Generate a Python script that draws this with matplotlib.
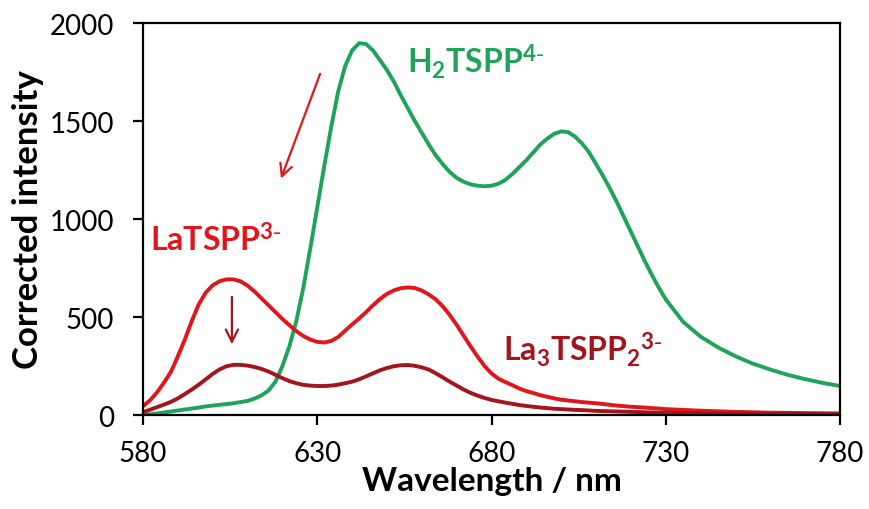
import matplotlib
matplotlib.use("Agg")
import numpy as np
import matplotlib.pyplot as plt

plt.rcParams['font.family'] = ['Lato', 'DejaVu Sans']

# wavelength grid (nm): 2 nm steps to 730, then 5 nm steps
wavelength = np.concatenate([np.arange(580, 731, 2), np.arange(735, 781, 5)])

h2tspp = [0, 4, 8, 13, 18, 23, 28, 33, 38, 44,
          48, 52, 56, 60, 66, 72, 84, 100, 125, 170,
          250, 350, 480, 650, 850, 1060, 1270, 1470, 1650, 1780,
          1860, 1897, 1893, 1860, 1810, 1760, 1700, 1630, 1565, 1500,
          1440, 1380, 1325, 1280, 1240, 1210, 1190, 1177, 1170, 1167,
          1170, 1180, 1200, 1230, 1265, 1300, 1340, 1380, 1410, 1435,
          1447, 1443, 1420, 1385, 1340, 1280, 1220, 1155, 1085, 1010,
          935, 860, 785, 715, 650, 590,
          475, 400, 345, 300, 262, 232, 205, 183, 164, 148]

latspp = [45, 75, 115, 165, 220, 300, 385, 480, 565, 625,
          662, 683, 692, 692, 682, 660, 630, 595, 560, 525,
          490, 458, 428, 403, 385, 373, 370, 378, 398, 430,
          462, 492, 525, 560, 592, 618, 636, 647, 651, 648,
          635, 615, 590, 555, 510, 460, 405, 350, 298, 250,
          212, 185, 168, 152, 135, 122, 112, 101, 93, 85,
          78, 74, 70, 66, 63, 60, 56, 52, 48, 45,
          42, 40, 38, 35, 33, 30,
          26, 22, 19, 16, 14, 12, 11, 10, 9, 8]

la3tspp2 = [15, 27, 40, 53, 67, 85, 107, 130, 155, 182,
            210, 233, 249, 256, 256, 252, 245, 235, 222, 205,
            188, 173, 162, 154, 150, 148, 148, 150, 155, 162,
            170, 182, 197, 213, 228, 240, 249, 254, 255, 251,
            243, 232, 213, 192, 170, 150, 130, 113, 99, 87,
            77, 70, 63, 57, 51, 46, 42, 38, 35, 32,
            30, 28, 26, 25, 23, 21, 20, 19, 18, 17,
            16, 15, 14, 13, 12, 11,
            10, 9, 8, 7, 7, 6, 6, 5, 5, 4]

green = '#1fa35b'
red = '#e0161b'
darkred = '#a3141d'

fig = plt.figure(figsize=(8.69, 5.10), dpi=100)
ax = fig.add_axes([0.1646, 0.1843, 0.802, 0.7686])

ax.plot(wavelength, h2tspp, color=green, lw=2.8)
ax.plot(wavelength, latspp, color=red, lw=2.8)
ax.plot(wavelength, la3tspp2, color=darkred, lw=2.8)

ax.set_xlim(580, 780)
ax.set_ylim(0, 2000)
ax.set_xticks([580, 630, 680, 730, 780])
ax.set_yticks([0, 500, 1000, 1500, 2000])
for s in ax.spines.values():
    s.set_linewidth(1.6)
ax.tick_params(direction='out', length=7, width=1.6, labelsize=20)
ax.tick_params(axis='x', pad=11)
ax.tick_params(axis='y', pad=14)

ax.set_xlabel('Wavelength / nm', fontsize=24, fontweight='bold', labelpad=0)
ax.set_ylabel('Corrected intensity', fontsize=25, fontweight='bold', labelpad=4)

# labels
ax.text(655.8, 1805, r'$\mathregular{H_2TSPP^{4\text{-}}}$', color=green, fontsize=23,
        fontweight='bold', va='center', ha='left')
ax.text(582, 898, r'$\mathregular{LaTSPP^{3\text{-}}}$', color=red, fontsize=23,
        fontweight='bold', va='center', ha='left')
ax.text(683.3, 337, r'$\mathregular{La_3TSPP_2{}^{3\text{-}}}$', color=darkred, fontsize=23,
        fontweight='bold', va='center', ha='left')

# arrows
ax.annotate('', xy=(619.3, 1193), xytext=(631.1, 1754),
            arrowprops=dict(arrowstyle='->', color=red, lw=1.6, mutation_scale=22))
ax.annotate('', xy=(605.5, 347), xytext=(605.5, 617),
            arrowprops=dict(arrowstyle='->', color=darkred, lw=1.6, mutation_scale=22))

fig.savefig('out.png', dpi=100)
